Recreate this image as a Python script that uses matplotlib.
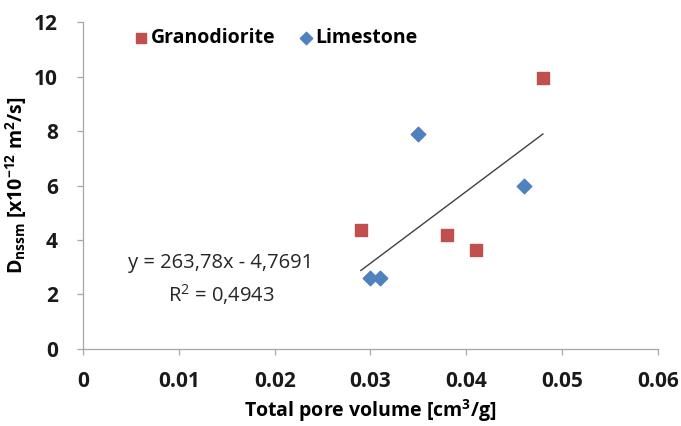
import matplotlib
matplotlib.use("Agg")
import matplotlib.pyplot as plt
import numpy as np

plt.rcParams['font.family'] = ['Open Sans', 'DejaVu Sans']
plt.rcParams['mathtext.fontset'] = 'custom'
plt.rcParams['mathtext.rm'] = 'Open Sans'
plt.rcParams['mathtext.bf'] = 'Open Sans:bold'
plt.rcParams['mathtext.it'] = 'Open Sans:italic'

# Data
grano_x = [0.029, 0.038, 0.041, 0.048]
grano_y = [4.35, 4.2, 3.65, 9.95]
lime_x = [0.030, 0.031, 0.035, 0.046]
lime_y = [2.6, 2.6, 7.9, 6.0]
trend_slope = 263.78
trend_intercept = -4.7691
x_ticks = [0, 0.01, 0.02, 0.03, 0.04, 0.05, 0.06]
x_ticklabels = ['0', '0.01', '0.02', '0.03', '0.04', '0.05', '0.06']
y_ticks = [0, 2, 4, 6, 8, 10, 12]

red = '#C0504D'
blue = '#4F81BD'
gray = '#A6A6A6'

fig = plt.figure(figsize=(6.81, 4.26), dpi=100)
ax = fig.add_axes([0.122, 0.181, 0.844, 0.767])

ax.scatter(grano_x, grano_y, marker='s', s=80, color=red, label='Granodiorite', zorder=3)
ax.scatter(lime_x, lime_y, marker='D', s=55, color=blue, label='Limestone', zorder=3)

all_x = np.array(grano_x + lime_x)
tx = np.array([all_x.min(), all_x.max()])
ax.plot(tx, trend_slope * tx + trend_intercept, color='#404040', lw=1.0, zorder=2)

ax.text(0.0144, 3.15, 'y = 263,78x - 4,7691', ha='center', va='center', fontsize=14.5, color='#262626')
ax.text(0.0144, 1.98, 'R$^2$ = 0,4943', ha='center', va='center', fontsize=14.5, color='#262626')

ax.set_xlim(0, 0.06)
ax.set_ylim(0, 12)
ax.set_xticks(x_ticks)
ax.set_xticklabels(x_ticklabels)
ax.set_yticks(y_ticks)

for s in ['top', 'right']:
    ax.spines[s].set_visible(False)
for s in ['left', 'bottom']:
    ax.spines[s].set_color(gray)
    ax.spines[s].set_linewidth(0.9)
ax.tick_params(axis='both', direction='out', length=4, color=gray, width=0.9,
               labelsize=15, labelcolor='#1a1a1a')
ax.tick_params(axis='x', pad=12)
ax.tick_params(axis='y', pad=14)
for lab in ax.get_xticklabels() + ax.get_yticklabels():
    lab.set_fontweight('bold')

ax.set_xlabel('Total pore volume [cm$^{\\mathbf{3}}$/g]', fontsize=14, fontweight='bold', labelpad=4)
ax.set_ylabel(r'D$_{\mathbf{nssm}}$ [x10$^{\mathbf{-12}}$ m$^{\mathbf{2}}$/s]', fontsize=14, fontweight='bold', labelpad=4)

leg = ax.legend(loc='upper left', bbox_to_anchor=(0.044, 1.035), ncol=2, frameon=False,
                handletextpad=-0.3, columnspacing=0.75, handlelength=1.6,
                prop={'weight': 'bold', 'size': 14}, markerscale=0.85)

fig.savefig('out.png', dpi=100)
